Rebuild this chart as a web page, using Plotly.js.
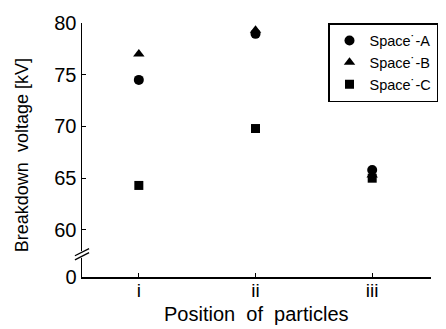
<!DOCTYPE html>
<html><head><meta charset="utf-8">
<script src="https://cdn.plot.ly/plotly-3.0.1.min.js"></script>
<style>html,body{margin:0;padding:0;background:#fff;}#chart{width:446px;height:329px;}</style>
</head><body><div id="chart"></div>
<script>
const positions = ["i", "ii", "iii"];
const spaceA = [74.5, 78.95, 65.8];
const spaceB = [77.0, 79.3, 65.3];
const spaceC = [64.3, 69.8, 65.0];
const seriesNames = ["Space˙-A", "Space˙-B", "Space˙-C"];
const yTickVals = [55.45, 60, 65, 70, 75, 80];
const yTickText = ["0", "60", "65", "70", "75", "80"];
const xTitle = "Position  of  particles";
const yTitle = "Breakdown  voltage [kV]";

const xIdx = positions.map((_, i) => i);
function tr(y, name, sym, size) {
  return {x: xIdx, y: y, name: name, type: "scatter", mode: "markers",
    marker: {symbol: sym, size: size, color: "#000"}, cliponaxis: false};
}
const data = [
  tr(spaceA, seriesNames[0], "circle", 10),
  tr(spaceB, seriesNames[1], "triangle-up", 10),
  tr(spaceC, seriesNames[2], "square", 9)
];
const font = {family: "Liberation Sans, Arial, sans-serif", color: "#000"};
const W = 446, H = 329, ML = 82, MR = 9, MT = 23, MB = 52;
const PW = W - ML - MR, PH = H - MT - MB;
const layout = {
  width: W, height: H,
  margin: {l: ML, r: MR, t: MT, b: MB},
  paper_bgcolor: "#fff", plot_bgcolor: "#fff",
  showlegend: true,
  legend: {x: (328 - ML) / PW, y: 1.0, xanchor: "left", yanchor: "top",
    bordercolor: "#000", borderwidth: 1.5, bgcolor: "#fff",
    font: Object.assign({}, font, {size: 14.5}), tracegroupgap: 0, itemwidth: 30},
  xaxis: {domain: [0, 350 / PW], range: [-0.487, 2.504], tickvals: xIdx, ticktext: positions,
    showline: true, linecolor: "#000", linewidth: 1.5, ticks: "inside", ticklen: 4,
    tickcolor: "#000", showgrid: false, zeroline: false, ticklabelstandoff: -4,
    tickfont: Object.assign({}, font, {size: 19})},
  yaxis: {range: [55.45, 80], tickvals: yTickVals, ticktext: yTickText,
    showline: true, linecolor: "#000", linewidth: 1.5, ticks: "inside", ticklen: 4,
    tickcolor: "#000", showgrid: false, zeroline: false,
    tickfont: Object.assign({}, font, {size: 20})},
  annotations: [
    {text: yTitle, textangle: -90, xref: "paper", yref: "paper",
      x: (22 - ML) / PW, y: 1 - (155 - MT) / PH, xanchor: "center", yanchor: "middle",
      showarrow: false, font: Object.assign({}, font, {size: 18})},
    {text: xTitle, xref: "paper", yref: "paper",
      x: (257 - ML) / PW, y: 1 - (314 - MT) / PH, xanchor: "center", yanchor: "middle",
      showarrow: false, font: Object.assign({}, font, {size: 20})}
  ],
  shapes: [
    {type: "rect", xref: "paper", yref: "y", x0: -0.012, x1: 0.012, y0: 57.3, y1: 57.95,
      fillcolor: "#fff", line: {width: 0}, layer: "above"},
    {type: "line", xref: "paper", yref: "y", x0: -0.02, x1: 0.02, y0: 57.1, y1: 57.8,
      line: {color: "#000", width: 1.3}, layer: "above"},
    {type: "line", xref: "paper", yref: "y", x0: -0.02, x1: 0.02, y0: 57.5, y1: 58.2,
      line: {color: "#000", width: 1.3}, layer: "above"}
  ]
};
Plotly.newPlot("chart", data, layout, {displayModeBar: false, staticPlot: true});
</script></body></html>
